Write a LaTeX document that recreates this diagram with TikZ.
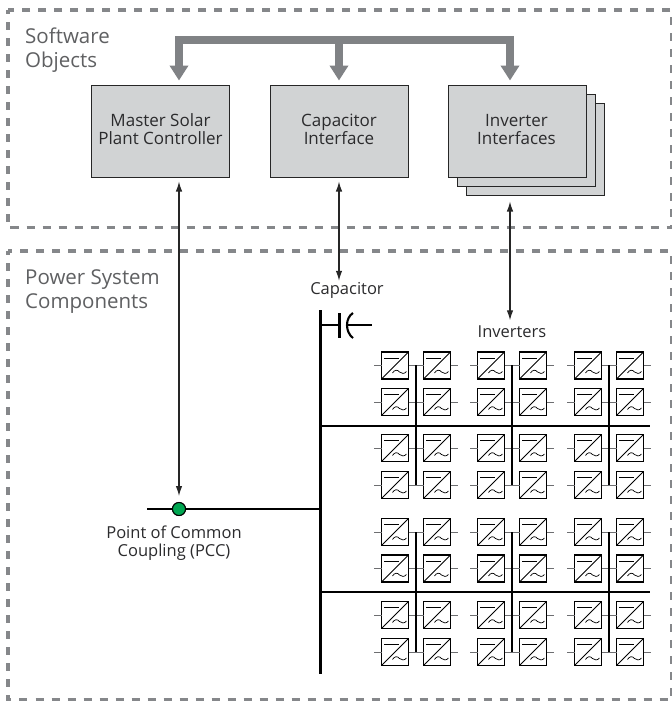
\documentclass[tikz,border=0pt]{standalone}
\usepackage{fontspec}
\setmainfont{Open Sans}
\usetikzlibrary{arrows.meta,calc}
\definecolor{framegray}{HTML}{85878A}
\definecolor{busgray}{HTML}{808285}
\definecolor{boxgray}{HTML}{D1D3D4}
\definecolor{stubgray}{HTML}{6D6E71}
\definecolor{txtdark}{HTML}{2B2B2D}
\definecolor{txtgray}{HTML}{5F6062}
\definecolor{pccgreen}{HTML}{00A651}
\newcommand{\boxlift}{\\[-15pt]\mbox{}}
\tikzset{
  x=1pt,y=-1pt,
  frame/.style={draw=framegray,line width=3.6pt,dash pattern=on 8pt off 8pt,dash phase=4pt},
  softbox/.style={draw=black!85,line width=1pt,fill=boxgray,minimum width=138pt,minimum height=92pt,inner sep=0pt,align=center,text=txtdark,font=\fontsize{17}{18}\selectfont},
  grouplabel/.style={anchor=north west,align=left,inner sep=0pt,text=txtgray,font=\fontsize{20.5}{24}\selectfont},
  partlabel/.style={align=center,inner sep=0pt,text=txtdark,font=\fontsize{16.5}{18.5}\selectfont},
  buspipe/.style={draw=busgray,line width=8pt},
  busdrop/.style={buspipe,-{Triangle[width=18pt,length=15pt]},shorten >=4pt},
  link/.style={draw=black!85,line width=1.2pt,{Latex[length=10pt,width=6.5pt]}-{Latex[length=10pt,width=6.5pt]}},
  powerline/.style={draw=black,line width=2.1pt},
  stub/.style={draw=stubgray,line width=1pt},
  invbox/.style={draw=black,line width=1.3pt,fill=white,minimum size=27pt,inner sep=0pt,outer sep=0pt},
  invline/.style={draw=black,line width=.9pt},
  invwave/.style={draw=black,line width=.7pt},
}
\newcommand{\invmarks}[1]{%
  \begin{scope}[shift={(#1.north west)}]
    \draw[invline] (0,27) -- (27,0);
    \draw[invline] (2.5,6) -- (17,6);
    \draw[invwave] (11,21) .. controls (13,17.5) and (16,17.5) .. (18,20) .. controls (20,22) and (23,22) .. (25,19.5);
  \end{scope}}
\begin{document}
\begin{tikzpicture}
\useasboundingbox (0,0) rectangle (672,702);
\fill[white] (0,0) rectangle (672,702);
% frames
\draw[frame] (8,10) rectangle (671.5,227.5);
\draw[frame] (8,251) rectangle (671.5,699.5);
\node[grouplabel] (swlabel) at (25,28) {Software\\Objects};
\node[grouplabel] (pslabel) at (25,269) {Power System\\Components};
% software boxes
\node[softbox] (master) at (160.5,131) {Master Solar\\Plant Controller\boxlift};
\node[softbox] (capif) at (339,131) {Capacitor\\Interface\boxlift};
\node[softbox] (invc) at (535.5,149) {};
\node[softbox] (invb) at (526.5,140) {};
\node[softbox] (inva) at (517.5,131) {\hspace*{-2pt}Inverter\\\hspace*{-2pt}Interfaces\boxlift};
% software bus
\coordinate (busL) at (179,40);
\coordinate (busM) at (339,40);
\coordinate (busR) at (510,40);
\draw[buspipe,line cap=butt] ($(busL)+(-4,0)$) -- ($(busR)+(4,0)$);
\draw[busdrop] ($(busL)+(0,-4)$) -- (busL |- master.north);
\draw[busdrop] (busM) -- (busM |- capif.north);
\draw[busdrop] ($(busR)+(0,-4)$) -- (busR |- inva.north);
% power system
\coordinate (mainTop) at (320.5,310);
\coordinate (mainBot) at (320.5,674);
\coordinate (bus1R) at (650,426);
\coordinate (bus2R) at (650,592);
\coordinate (pccL) at (147,509);
\coordinate (capJ) at (320.5,325);
\coordinate (capP) at (339.5,325);
\coordinate (capP1) at (339.5,313);
\coordinate (capP2) at (339.5,338);
\coordinate (capQ) at (347,325);
\coordinate (capE) at (372,325);
\node[circle,draw=black,line width=1pt,fill=pccgreen,minimum size=13pt,inner sep=0pt] (pcc) at (179,509) {};
\draw[powerline] (mainTop) -- (mainBot);
\draw[powerline] (mainTop |- bus1R) -- (bus1R);
\draw[powerline] (mainTop |- bus2R) -- (bus2R);
\draw[powerline] (pccL) -- (pcc) -- (mainTop |- pcc);
\node[circle,draw=black,line width=1pt,fill=pccgreen,minimum size=13pt,inner sep=0pt] at (pcc) {};
\draw[powerline] (capJ) -- (capP);
\draw[powerline] (capP1) -- (capP2);
\draw[powerline] (353,313) .. controls (345,318) and (345,332) .. (353,338);
\draw[draw=black,line width=1.5pt] (capQ) -- (capE);
% labels
\node[partlabel] (caplabel) at (347,290) {Capacitor};
\node[partlabel] (invlabel) at (512,331.5) {Inverters};
\node[partlabel] (pcclabel) at (174,543) {Point of Common\\Coupling (PCC)};
% links
\coordinate (lnkM) at (179,177);
\coordinate (lnkC) at (339,177);
\coordinate (lnkI) at (510,177);
\draw[link,shorten <=4pt,shorten >=6pt] (lnkM |- master.south) -- (lnkM |- pcc.north);
\draw[link,shorten <=4pt,shorten >=1pt] (lnkC |- capif.south) -- (lnkC |- caplabel.north);
\draw[link,shorten <=6pt,shorten >=5pt] (lnkI |- invc.south) -- (lnkI |- invlabel.north);
% inverter array
\foreach \bx/\g in {416/a,512/b,609/c}{
  \foreach \ry/\r in {365.5/1,402/2,448/3,485/4,532/5,568.5/6,615/7,652/8}{
    \node[invbox] (L\g\r) at (\bx-21,\ry) {};
    \node[invbox] (R\g\r) at (\bx+21,\ry) {};
    \invmarks{L\g\r}
    \invmarks{R\g\r}
    \coordinate (LE\g\r) at (\bx-42,\ry);
    \coordinate (RE\g\r) at (\bx+42,\ry);
    \draw[stub] (LE\g\r) -- (L\g\r.west);
    \draw[stub] (L\g\r.east) -- (R\g\r.west);
    \draw[stub] (R\g\r.east) -- (RE\g\r);
  }
  \foreach \ya/\yb/\h in {365/485/u,532/652/l}{
    \coordinate (top\g\h) at (\bx,\ya);
    \coordinate (bot\g\h) at (\bx,\yb);
    \draw[powerline,line width=1.7pt] (top\g\h) -- (bot\g\h);
  }
}
\end{tikzpicture}
\end{document}
